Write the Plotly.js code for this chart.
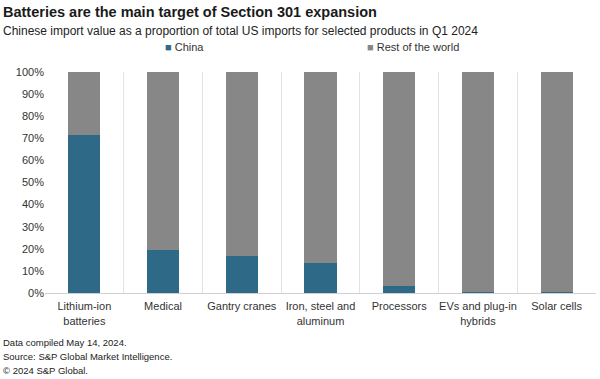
<!DOCTYPE html>
<html>
<head>
<meta charset="utf-8">
<script src="https://cdn.plot.ly/plotly-3.0.1.min.js"></script>
<style>html,body{margin:0;padding:0;background:#fff;}#chart{width:600px;height:379px;}</style>
</head>
<body>
<div id="chart"></div>
<script>
const categories = ["Lithium-ion<br>batteries", "Medical", "Gantry cranes", "Iron, steel and<br>aluminum", "Processors", "EVs and plug-in<br>hybrids", "Solar cells"];
const china = [71.5, 19.5, 16.7, 13.7, 3.2, 0.4, 0.3];
const restOfWorld = [28.5, 80.5, 83.3, 86.3, 96.8, 99.6, 99.7];
const yTickVals = [0, 10, 20, 30, 40, 50, 60, 70, 80, 90, 100];
const yTickText = ["0%", "10%", "20%", "30%", "40%", "50%", "60%", "70%", "80%", "90%", "100%"];
const seriesNames = ["China", "Rest of the world"];
const seriesColors = ["#2E6A87", "#878787"];

const font = "Liberation Sans, Arial, sans-serif";
const data = [
  {type: "bar", name: seriesNames[0], x: categories, y: china, marker: {color: seriesColors[0]}, width: 0.41},
  {type: "bar", name: seriesNames[1], x: categories, y: restOfWorld, marker: {color: seriesColors[1]}, width: 0.41}
];
const plotH = 379 - 72 - 86, plotW = 600 - 45 - 4;
const py = (pix) => (379 - 86 - pix) / plotH;
const px = (pix) => (pix - 45) / plotW;
const ann = (text, x, y, size, color) => ({text, xref: "paper", yref: "paper", x: px(x), y: py(y), xanchor: "left", yanchor: "middle", showarrow: false, font: {size, color}});
const layout = {
  width: 600, height: 379,
  barmode: "stack",
  margin: {l: 45, r: 4, t: 72, b: 86},
  paper_bgcolor: "#fff", plot_bgcolor: "#fff",
  font: {family: font, size: 11, color: "#333"},
  showlegend: false,
  xaxis: {type: "category", tickson: "boundaries", tickangle: 0, ticklabelstandoff: 3, showgrid: true, gridcolor: "#e3e3e3", gridwidth: 1, showline: true, linecolor: "#d0d0d0", ticks: "", tickfont: {size: 11, color: "#333"}, zeroline: false},
  yaxis: {range: [0, 100], tickvals: yTickVals, ticktext: yTickText, showgrid: false, zeroline: false, showline: false, ticks: "", tickfont: {size: 11, color: "#333"}},
  annotations: [
    ann("<b>Batteries are the main target of Section 301 expansion</b>", 1, 12, 14.5, "#1a1a1a"),
    ann("Chinese import value as a proportion of total US imports for selected products in Q1 2024", 1, 31, 12, "#222"),
    ann('<span style="color:' + seriesColors[0] + '">■</span> ' + seriesNames[0], 163, 47, 11, "#333"),
    ann('<span style="color:' + seriesColors[1] + '">■</span> ' + seriesNames[1], 365, 47, 11, "#333"),
    ann("Data compiled May 14, 2024.", 1, 342, 9.5, "#222"),
    ann("Source: S&P Global Market Intelligence.", 1, 356, 9.5, "#222"),
    ann("© 2024 S&P Global.", 1, 370, 9.5, "#222")
  ]
};
Plotly.newPlot("chart", data, layout, {staticPlot: true});
</script>
</body>
</html>
